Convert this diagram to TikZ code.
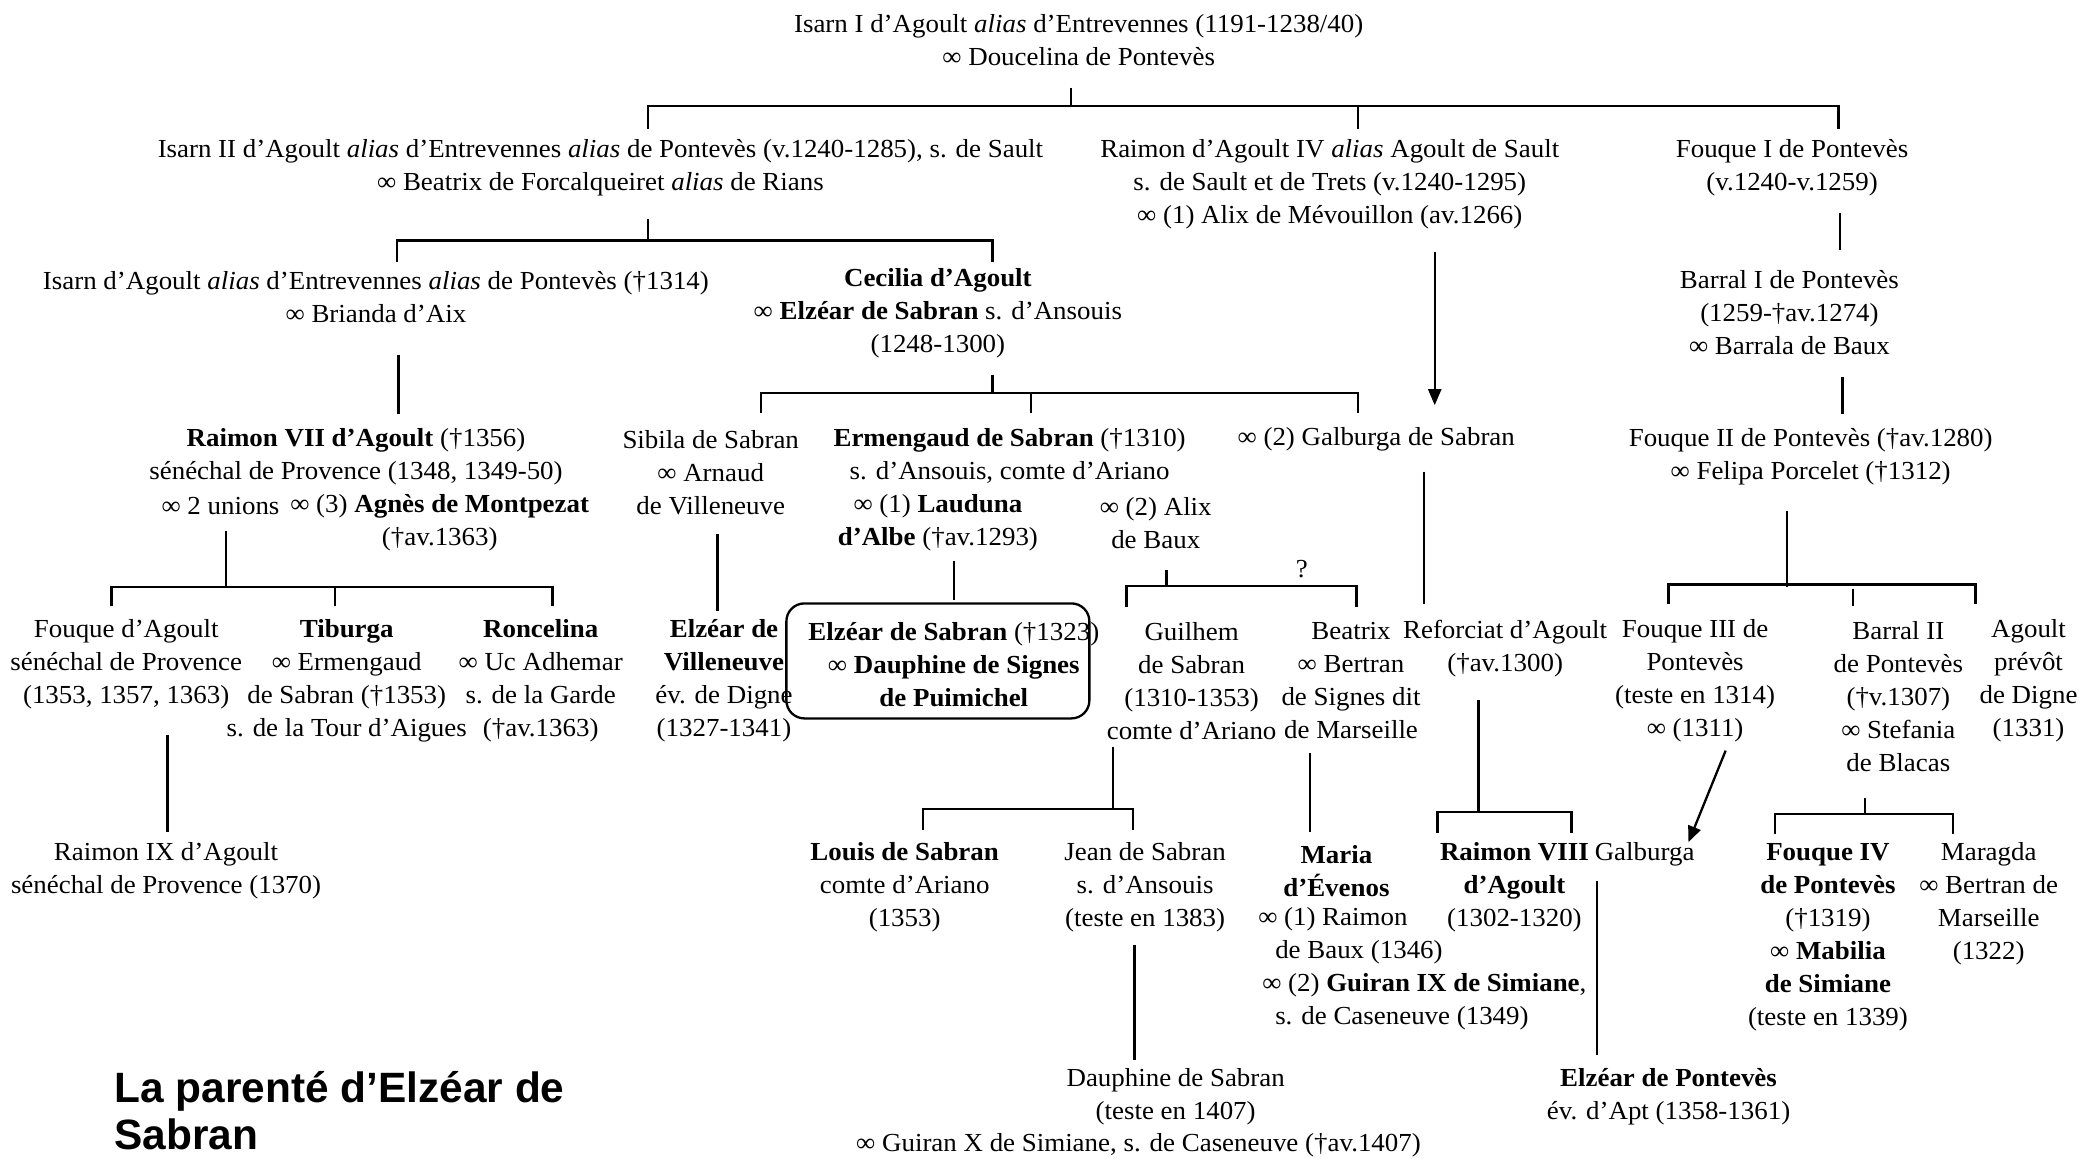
\documentclass[tikz,border=0pt]{standalone}
\usepackage{fontspec}
\setmainfont[FakeStretch=1.035]{Liberation Serif}
\newfontfamily\titlefont{Liberation Sans}
\usetikzlibrary{arrows.meta}
\newcommand\fs{\fontsize{26}{33}\selectfont}
\begin{document}
\begin{tikzpicture}[x=1.3284pt,y=-1.3284pt,
  person/.style={align=center,inner sep=0pt,font=\fs},
  link/.style={line width=2.3pt},
  arr/.style={line width=2.3pt,-{Triangle[length=16pt,width=13pt]}},
  boxed/.style={draw,line width=2.3pt,rounded corners=18pt,minimum width=303pt,minimum height=115pt,inner sep=0pt}]
\useasboundingbox[fill=white] (0,0) rectangle (1568,872);

% ---------- persons ----------
\node[person] (isarnI) at (812,30.5) {Isarn I d’Agoult \textit{alias} d’Entrevennes (1191-1238/40)\\ ∞ Doucelina de Pontevès};
\node[person] (isarnII) at (452,126.5) {Isarn II d’Agoult \textit{alias} d’Entrevennes \textit{alias} de Pontevès (v.1240-1285), s. de Sault\\ ∞ Beatrix de Forcalqueiret \textit{alias} de Rians};
\node[person] (raimonIV) at (1001,138.5) {Raimon d’Agoult IV \textit{alias} Agoult de Sault\\ s. de Sault et de Trets (v.1240-1295)\\ ∞ (1) Alix de Mévouillon (av.1266)};
\node[person] (fouqueI) at (1349,126.5) {Fouque I de Pontevès\\ (v.1240-v.1259)};
\node[person] (isarnC) at (283,223.5) {Isarn d’Agoult \textit{alias} d’Entrevennes \textit{alias} de Pontevès (†1314)\\ ∞ Brianda d’Aix};
\node[person] (cecilia) at (706,235.5) {\textbf{Cecilia d’Agoult}\\ ∞ \textbf{Elzéar de Sabran} s. d’Ansouis\\ (1248-1300)};
\node[person] (barralI) at (1347,235.5) {Barral I de Pontevès\\ (1259-†av.1274)\\ ∞ Barrala de Baux};
\node[person] (raimonVII) at (268,343.5) {\textbf{Raimon VII d’Agoult} (†1356)\\ sénéchal de Provence (1348, 1349-50)};
\node[person] (unions) at (166,381) {∞ 2 unions};
\node[person] (agnes) at (331,393.5) {∞ (3) \textbf{Agnès de Montpezat}\\ (†av.1363)};
\node[person] (sibila) at (535,356) {Sibila de Sabran\\ ∞ Arnaud\\ de Villeneuve};
\node[person] (ermengaud) at (760,343.5) {\textbf{Ermengaud de Sabran} (†1310)\\ s. d’Ansouis, comte d’Ariano};
\node[person] (lauduna) at (706,393.5) {∞ (1) \textbf{Lauduna}\\ \textbf{d’Albe} (†av.1293)};
\node[person] (alix) at (870,393.5) {∞ (2) Alix\\ de Baux};
\node[person] (galburgaS) at (1036,331) {∞ (2) Galburga de Sabran};
\node[person] (fouqueII) at (1363,343.5) {Fouque II de Pontevès (†av.1280)\\ ∞ Felipa Porcelet (†1312)};

\node[person] (fouqueA) at (95,500) {Fouque d’Agoult\\ sénéchal de Provence\\ (1353, 1357, 1363)};
\node[person] (tiburga) at (261,512.5) {\textbf{Tiburga}\\ ∞ Ermengaud\\ de Sabran (†1353)\\ s. de la Tour d’Aigues};
\node[person] (roncelina) at (407,512.5) {\textbf{Roncelina}\\ ∞ Uc Adhemar\\ s. de la Garde\\ (†av.1363)};
\node[person] (elzearV) at (545,512.5) {\textbf{Elzéar de}\\ \textbf{Villeneuve}\\ év. de Digne\\ (1327-1341)};
\node[boxed] (elzearbox) at (706,497.5) {};
\node[person] (elzearS) at (718,500) {\textbf{Elzéar de Sabran} (†1323)\\ ∞ \textbf{Dauphine de Signes}\\ \textbf{de Puimichel}};
\node[person] (guilhem) at (897,512.5) {Guilhem\\ de Sabran\\ (1310-1353)\\ comte d’Ariano};
\node[person] (beatrix) at (1017,512.5) {Beatrix\\ ∞ Bertran\\ de Signes dit\\ de Marseille};
\node[person] (reforciat) at (1133,488) {Reforciat d’Agoult\\ (†av.1300)};
\node[person] (fouqueIII) at (1276,512.5) {Fouque III de\\ Pontevès\\ (teste en 1314)\\ ∞ (1311)};
\node[person] (barralII) at (1429,524.5) {Barral II\\ de Pontevès\\ (†v.1307)\\ ∞ Stefania\\ de Blacas};
\node[person] (agoultP) at (1527,512.5) {Agoult\\ prévôt\\ de Digne\\ (1331)};

\node[person] (raimonIX) at (125,655.5) {Raimon IX d’Agoult\\ sénéchal de Provence (1370)};
\node[person] (louis) at (681,667.5) {\textbf{Louis de Sabran}\\ comte d’Ariano\\ (1353)};
\node[person] (jean) at (862,667.5) {Jean de Sabran\\ s. d’Ansouis\\ (teste en 1383)};
\node[person] (maria) at (1006,655.5) {\textbf{Maria}\\ \textbf{d’Évenos}};
\node[person,align=left,anchor=west] (mariaM) at (947,729.5) {∞ (1) Raimon\\ \hspace*{17pt}de Baux (1346)\\ \hspace*{4pt}∞ (2) \textbf{Guiran IX de Simiane},\\ \hspace*{17pt}s. de Caseneuve (1349)};
\node[person] (raimonVIII) at (1140,667.5) {\textbf{Raimon VIII}\\ \textbf{d’Agoult}\\ (1302-1320)};
\node[person] (galburga) at (1238,643) {Galburga};
\node[person] (fouqueIV) at (1376,705.5) {\textbf{Fouque IV}\\ \textbf{de Pontevès}\\ (†1319)\\ ∞ \textbf{Mabilia}\\ \textbf{de Simiane}\\ (teste en 1339)};
\node[person] (maragda) at (1497,680.5) {Maragda\\ ∞ Bertran de\\ Marseille\\ (1322)};
\node[person] (dauphine) at (885,825.5) {Dauphine de Sabran\\ (teste en 1407)};
\node[person] (dauphineM) at (857,862) {∞ Guiran X de Simiane, s. de Caseneuve (†av.1407)};
\node[person] (elzearP) at (1256,825.5) {\textbf{Elzéar de Pontevès}\\ év. d’Apt (1358-1361)};

\node[person] (quest) at (980,428) {?};

\node[inner sep=0pt,anchor=north west,align=left,font=\titlefont\bfseries\fontsize{42.4}{47.5}\selectfont] (title) at (86,806) {La parenté d’Elzéar de\\ Sabran};

% ---------- junction coordinates ----------
\coordinate (a0) at (806,66);   \coordinate (a1) at (806,80);
\coordinate (aL) at (488,80);   \coordinate (aR) at (1384,80);  \coordinate (aM) at (1022,80);
\coordinate (aLd) at (488,97);  \coordinate (aRd) at (1384,97); \coordinate (aMd) at (1022,97);

\coordinate (b0) at (488,165);  \coordinate (b1) at (488,181);
\coordinate (bL) at (299,181);  \coordinate (bR) at (747,181);
\coordinate (bLd) at (299,197); \coordinate (bRd) at (747,197);

\coordinate (r4a) at (1080,190); \coordinate (r4b) at (1080,305);
\coordinate (f1a) at (1385,160); \coordinate (f1b) at (1385,188);
\coordinate (b1a) at (1387,284); \coordinate (b1b) at (1387,312);
\coordinate (icA) at (300,267);  \coordinate (icB) at (300,312);

\coordinate (c0) at (747,282);  \coordinate (c1) at (747,296);
\coordinate (cL) at (573,296);  \coordinate (cM) at (776,296);  \coordinate (cR) at (1022,296);
\coordinate (cLd) at (573,311); \coordinate (cMd) at (776,311); \coordinate (cRd) at (1022,311);

\coordinate (sA) at (540,402);  \coordinate (sB) at (540,460);
\coordinate (lA) at (718,422);  \coordinate (lB) at (718,452);

\coordinate (x0) at (878,429);  \coordinate (x1) at (878,441);
\coordinate (xL) at (848,441);  \coordinate (xR) at (1021,441);
\coordinate (xLd) at (848,457); \coordinate (xRd) at (1021,457);

\coordinate (gA) at (1072,355); \coordinate (gB) at (1072,455);

\coordinate (u0) at (170,400);  \coordinate (u1) at (170,442);
\coordinate (uL) at (84,442);   \coordinate (uM) at (252,442);  \coordinate (uR) at (416,442);
\coordinate (uLd) at (84,456);  \coordinate (uMd) at (252,456); \coordinate (uRd) at (416,456);

\coordinate (p0) at (1345,385); \coordinate (p1) at (1345,442);
\coordinate (pL) at (1256,440); \coordinate (pR) at (1487,440);
\coordinate (pLd) at (1256,455);\coordinate (pRd) at (1487,455);
\coordinate (pT0) at (1395,443);\coordinate (pT1) at (1395,456);

\coordinate (faA) at (126,553); \coordinate (faB) at (126,626);

\coordinate (h0) at (838,562);  \coordinate (h1) at (838,609);
\coordinate (hL) at (695,609);  \coordinate (hR) at (853,609);
\coordinate (hLd) at (695,625); \coordinate (hRd) at (853,625);

\coordinate (beA) at (986,567); \coordinate (beB) at (986,626);

\coordinate (rf0) at (1113,527); \coordinate (rf1) at (1113,611);
\coordinate (rfL) at (1082,611); \coordinate (rfR) at (1183,611);
\coordinate (rfLd) at (1082,627);\coordinate (rfRd) at (1183,627);

\coordinate (f3A) at (1299,565); \coordinate (f3B) at (1271,634);

\coordinate (b2_0) at (1404,601); \coordinate (b2_1) at (1404,613);
\coordinate (b2L) at (1336,613);  \coordinate (b2R) at (1470,613);
\coordinate (b2Ld) at (1336,628); \coordinate (b2Rd) at (1470,628);

\coordinate (jA) at (854,711);  \coordinate (jB) at (854,798);
\coordinate (gaA) at (1202,663);\coordinate (gaB) at (1202,794);

% ---------- connectors ----------
\draw[link] (a0) -- (a1);
\draw[link] (aLd) -- (aL) -- (aR) -- (aRd);
\draw[link] (aM) -- (aMd);

\draw[link] (b0) -- (b1);
\draw[link] (bLd) -- (bL) -- (bR) -- (bRd);

\draw[arr] (r4a) -- (r4b);
\draw[link] (f1a) -- (f1b);
\draw[link] (b1a) -- (b1b);
\draw[link] (icA) -- (icB);

\draw[link] (c0) -- (c1);
\draw[link] (cLd) -- (cL) -- (cR) -- (cRd);
\draw[link] (cM) -- (cMd);

\draw[link] (sA) -- (sB);
\draw[link] (lA) -- (lB);

\draw[link] (x0) -- (x1);
\draw[link] (xLd) -- (xL) -- (xR) -- (xRd);

\draw[link] (gA) -- (gB);

\draw[link] (u0) -- (u1);
\draw[link] (uLd) -- (uL) -- (uR) -- (uRd);
\draw[link] (uM) -- (uMd);

\draw[link] (p0) -- (p1);
\draw[link] (pLd) -- (pL) -- (pR) -- (pRd);
\draw[link] (pT0) -- (pT1);

\draw[link] (faA) -- (faB);

\draw[link] (h0) -- (h1);
\draw[link] (hLd) -- (hL) -- (hR) -- (hRd);

\draw[link] (beA) -- (beB);

\draw[link] (rf0) -- (rf1);
\draw[link] (rfLd) -- (rfL) -- (rfR) -- (rfRd);

\draw[arr] (f3A) -- (f3B);

\draw[link] (b2_0) -- (b2_1);
\draw[link] (b2Ld) -- (b2L) -- (b2R) -- (b2Rd);

\draw[link] (jA) -- (jB);
\draw[link] (gaA) -- (gaB);
\end{tikzpicture}
\end{document}
